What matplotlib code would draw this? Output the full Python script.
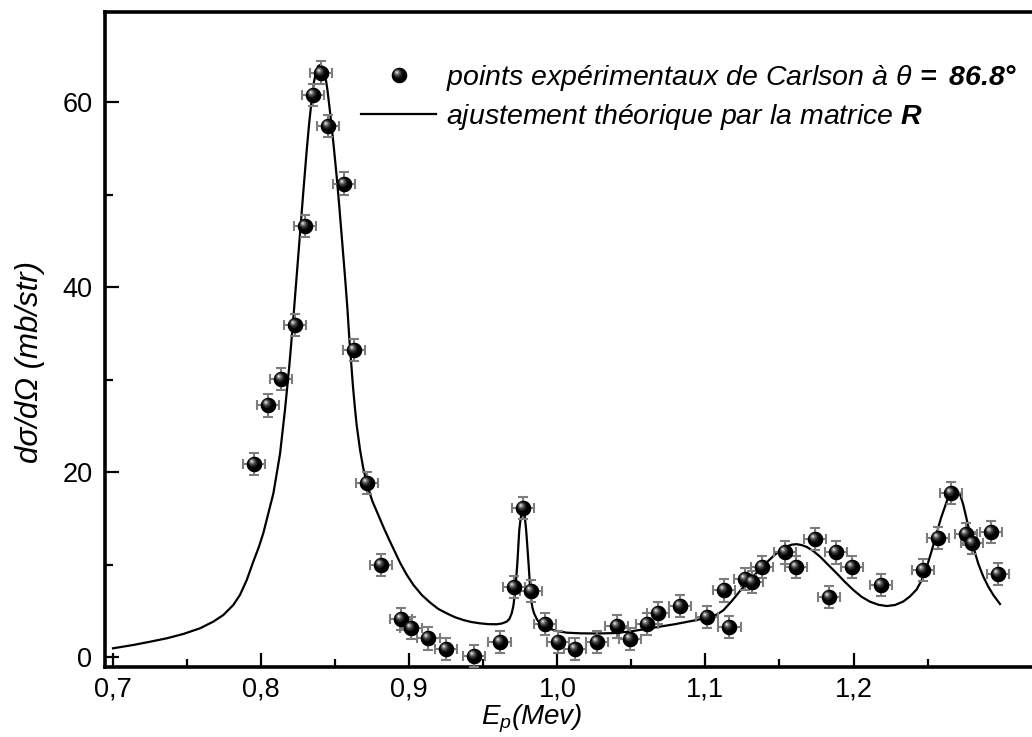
import numpy as np
import matplotlib
matplotlib.use('Agg')
import matplotlib.pyplot as plt
from matplotlib.path import Path
from matplotlib.markers import MarkerStyle
from matplotlib.lines import Line2D
from matplotlib.legend_handler import HandlerTuple

plt.rcParams['font.family'] = ['Liberation Sans', 'DejaVu Sans']
plt.rcParams['mathtext.fontset'] = 'custom'
plt.rcParams['mathtext.rm'] = 'Liberation Sans:italic'
plt.rcParams['mathtext.it'] = 'Liberation Sans:italic'
plt.rcParams['mathtext.bf'] = 'Liberation Sans:italic:bold'

# ---------------- data ----------------
energy_exp = [0.7954, 0.8049, 0.8134, 0.8229, 0.8296, 0.8353, 0.8404, 0.8450, 0.8562, 0.8629,
              0.8717, 0.8810, 0.8945, 0.9010, 0.9130, 0.9250, 0.9440, 0.9610, 0.9708, 0.9770,
              0.9820, 0.9917, 1.0005, 1.0120, 1.0268, 1.0400, 1.0490, 1.0606, 1.0680, 1.0830,
              1.1009, 1.1126, 1.1162, 1.1267, 1.1317, 1.1380, 1.1537, 1.1612, 1.1740, 1.1833,
              1.1880, 1.1992, 1.2186, 1.2471, 1.2568, 1.2656, 1.2757, 1.2798, 1.2926, 1.2978]
dsigma_exp = [20.9, 27.2, 30.1, 35.9, 46.6, 60.8, 63.2, 57.4, 51.2, 33.2,
              18.8, 9.95, 4.08, 3.1, 2.0, 0.9, 0.1, 1.65, 7.6, 16.1,
              7.1, 3.6, 1.65, 0.9, 1.65, 3.3, 1.95, 3.6, 4.75, 5.5,
              4.3, 7.2, 3.2, 8.4, 8.1, 9.7, 11.3, 9.7, 12.8, 6.5,
              11.3, 9.7, 7.8, 9.4, 12.9, 17.7, 13.3, 12.3, 13.5, 9.0]
energy_err = 0.0075
dsigma_err = 1.2

energy_fit = [0.7000, 0.7137, 0.7250, 0.7363, 0.7475, 0.7587, 0.7677, 0.7745, 0.7812, 0.7857,
              0.7903, 0.7947, 0.7985, 0.8015, 0.8050, 0.8083, 0.8105, 0.8128, 0.8145, 0.8161,
              0.8176, 0.8190, 0.8213, 0.8238, 0.8263, 0.8286, 0.8308, 0.8325, 0.8342, 0.8357,
              0.8371, 0.8385, 0.8398, 0.8414, 0.8431, 0.8448, 0.8465, 0.8488, 0.8510, 0.8527,
              0.8544, 0.8557, 0.8570, 0.8583, 0.8595, 0.8608, 0.8620, 0.8633, 0.8645, 0.8668,
              0.8690, 0.8713, 0.8750, 0.8790, 0.8830, 0.8870, 0.8938, 0.8983, 0.9028, 0.9085,
              0.9140, 0.9196, 0.9253, 0.9309, 0.9365, 0.9420, 0.9478, 0.9535, 0.9591, 0.9625,
              0.9658, 0.9676, 0.9692, 0.9703, 0.9714, 0.9722, 0.9730, 0.9737, 0.9743, 0.9751,
              0.9759, 0.9765, 0.9770, 0.9776, 0.9782, 0.9788, 0.9793, 0.9800, 0.9807, 0.9814,
              0.9820, 0.9831, 0.9843, 0.9863, 0.9883, 0.9928, 0.9973, 1.0018, 1.0063, 1.0153,
              1.0265, 1.0378, 1.0490, 1.0604, 1.0700, 1.0795, 1.0870, 1.0941, 1.1037, 1.1080,
              1.1121, 1.1178, 1.1234, 1.1290, 1.1346, 1.1402, 1.1458, 1.1505, 1.1549, 1.1583,
              1.1616, 1.1650, 1.1684, 1.1729, 1.1774, 1.1830, 1.1886, 1.1943, 1.1999, 1.2055,
              1.2111, 1.2168, 1.2224, 1.2280, 1.2336, 1.2381, 1.2426, 1.2460, 1.2494, 1.2528,
              1.2562, 1.2590, 1.2618, 1.2640, 1.2663, 1.2690, 1.2719, 1.2742, 1.2765, 1.2787,
              1.2809, 1.2842, 1.2876, 1.2910, 1.2944, 1.2989]
dsigma_fit = [0.94, 1.30, 1.65, 2.02, 2.49, 3.10, 3.82, 4.54, 5.62, 6.70,
              8.32, 10.3, 11.9, 13.4, 15.6, 17.7, 19.8, 22.0, 24.4, 26.7,
              29.1, 31.4, 35.7, 40.8, 45.8, 50.5, 54.8, 57.8, 60.3, 62.2,
              63.3, 63.9, 64.0, 63.8, 63.1, 61.3, 59.0, 55.6, 52.0, 48.9,
              45.6, 43.0, 40.4, 37.6, 34.6, 31.8, 29.3, 27.0, 25.1, 22.4,
              20.4, 18.8, 16.9, 15.4, 13.9, 12.5, 10.2, 8.9, 7.8, 6.7,
              5.9, 5.2, 4.72, 4.30, 4.00, 3.78, 3.64, 3.55, 3.54, 3.62,
              3.82, 4.10, 4.72, 5.5, 6.9, 8.4, 10.1, 12.0, 13.7, 14.8,
              15.6, 16.0, 16.1, 15.8, 14.9, 14.0, 13.0, 11.4, 9.8, 8.0,
              6.6, 5.4, 4.72, 4.05, 3.64, 3.20, 2.92, 2.75, 2.63, 2.56,
              2.54, 2.58, 2.75, 3.05, 3.30, 3.55, 3.78, 4.00, 4.35, 4.62,
              5.05, 6.05, 7.15, 8.15, 9.10, 10.05, 10.90, 11.55, 11.95, 12.15,
              12.2, 12.1, 11.9, 11.45, 10.85, 9.95, 9.05, 8.10, 7.24, 6.50,
              5.98, 5.65, 5.51, 5.62, 6.00, 6.55, 7.30, 8.30, 9.70, 11.5,
              13.4, 15.0, 16.3, 17.3, 17.95, 18.1, 17.6, 16.4, 14.8, 13.3,
              11.9, 10.1, 8.7, 7.6, 6.7, 5.73]

x_ticks = [0.7, 0.8, 0.9, 1.0, 1.1, 1.2]
x_tick_labels = ['0,7', '0,8', '0,9', '1,0', '1,1', '1,2']
x_minor = [0.75, 0.85, 0.95, 1.05, 1.15, 1.25]
y_ticks = [0, 20, 40, 60]
y_tick_labels = ['0', '20', '40', '60']
y_minor = [10, 30, 50]

label_exp = r'points expérimentaux de Carlson à $\theta\,\mathbf{=\ 86.8°}$'
label_fit = r'ajustement théorique par la matrice $\mathbf{R}$'

# ---------------- figure ----------------
W, H = 1032, 737
fig = plt.figure(figsize=(W / 100, H / 100), dpi=100)
ax_left, ax_right, ax_top, ax_bottom = 105, 1032, 11.5, 666.7
ax = fig.add_axes([ax_left / W, 1 - ax_bottom / H, (ax_right - ax_left) / W, (ax_bottom - ax_top) / H])

ax.set_xlim(0.6946, 1.3205)
ax.set_ylim(-1.05, 69.8)

# fit curve
fit_line, = ax.plot(energy_fit, dsigma_fit, color='black', lw=1.6, zorder=2,
                    solid_joinstyle='round')

# error bars
ax.errorbar(energy_exp, dsigma_exp, xerr=energy_err, yerr=dsigma_err, fmt='none',
            ecolor='#7d7d7d', elinewidth=1.5, capsize=3.3, capthick=1.5, zorder=3)


def circle_path(cx, cy, r, n=60):
    t = np.linspace(0, 2 * np.pi, n)
    verts = np.column_stack([cx + r * np.cos(t), cy + r * np.sin(t)])
    verts = np.vstack([[-1.0, -1.0], [1.0, 1.0], verts])
    codes = [Path.MOVETO, Path.MOVETO, Path.MOVETO] + [Path.LINETO] * (n - 2) + [Path.CLOSEPOLY]
    return Path(verts, codes)


sphere_layers = [(0.0, 0.0, 1.0, '#000000'),
                 (-0.20, 0.26, 0.60, '#1e1e1e'),
                 (-0.26, 0.32, 0.46, '#424242'),
                 (-0.30, 0.36, 0.33, '#727272'),
                 (-0.33, 0.39, 0.21, '#a8a8a8'),
                 (-0.35, 0.41, 0.10, '#dedede')]
msize = 11.2
sphere_handles = []
for i, (cx, cy, r, c) in enumerate(sphere_layers):
    mk = MarkerStyle(circle_path(cx, cy, r))
    ax.plot(energy_exp, dsigma_exp, linestyle='none', marker=mk, ms=msize,
            mfc=c, mec='none', mew=0, zorder=4 + i)
    sphere_handles.append(Line2D([], [], linestyle='none', marker=mk, ms=msize,
                                 mfc=c, mec='none', mew=0))

# axes styling
for side in ['left', 'bottom', 'top']:
    ax.spines[side].set_linewidth(2.6)
ax.spines['right'].set_visible(False)

ax.set_xticks(x_ticks)
ax.set_xticklabels(x_tick_labels)
ax.set_xticks(x_minor, minor=True)
ax.set_yticks(y_ticks)
ax.set_yticklabels(y_tick_labels)
ax.set_yticks(y_minor, minor=True)
ax.tick_params(which='both', direction='in', top=False, right=False, width=1.6, labelsize=19.5)
ax.tick_params(which='major', length=10)
ax.tick_params(which='minor', length=5.5)
ax.tick_params(axis='x', which='major', pad=7)
ax.tick_params(axis='y', which='major', pad=9)

ax.set_xlabel(r'$E_p$(Mev)', fontsize=20, fontstyle='italic')
ax.xaxis.label.set_va('center')
ax.xaxis.set_label_coords((532 - ax_left) / (ax_right - ax_left), (ax_bottom - 719) / (ax_bottom - ax_top))
ax.set_ylabel('dσ/dΩ (mb/str)', fontsize=22.5, fontstyle='italic')
ax.yaxis.label.set_va('center')
ax.yaxis.set_label_coords((30 - ax_left) / (ax_right - ax_left), (ax_bottom - 362) / (ax_bottom - ax_top))

leg = ax.legend([tuple(sphere_handles), fit_line], [label_exp, label_fit],
                handler_map={tuple: HandlerTuple(ndivide=1)},
                loc='upper left', bbox_to_anchor=(361 / W, 1 - 63 / H), bbox_transform=fig.transFigure,
                frameon=False, handlelength=2.65, handletextpad=0.32,
                borderpad=0, borderaxespad=0, labelspacing=0.3, numpoints=1,
                prop={'style': 'italic', 'size': 20.5})

fig.savefig('out.png', dpi=100)
